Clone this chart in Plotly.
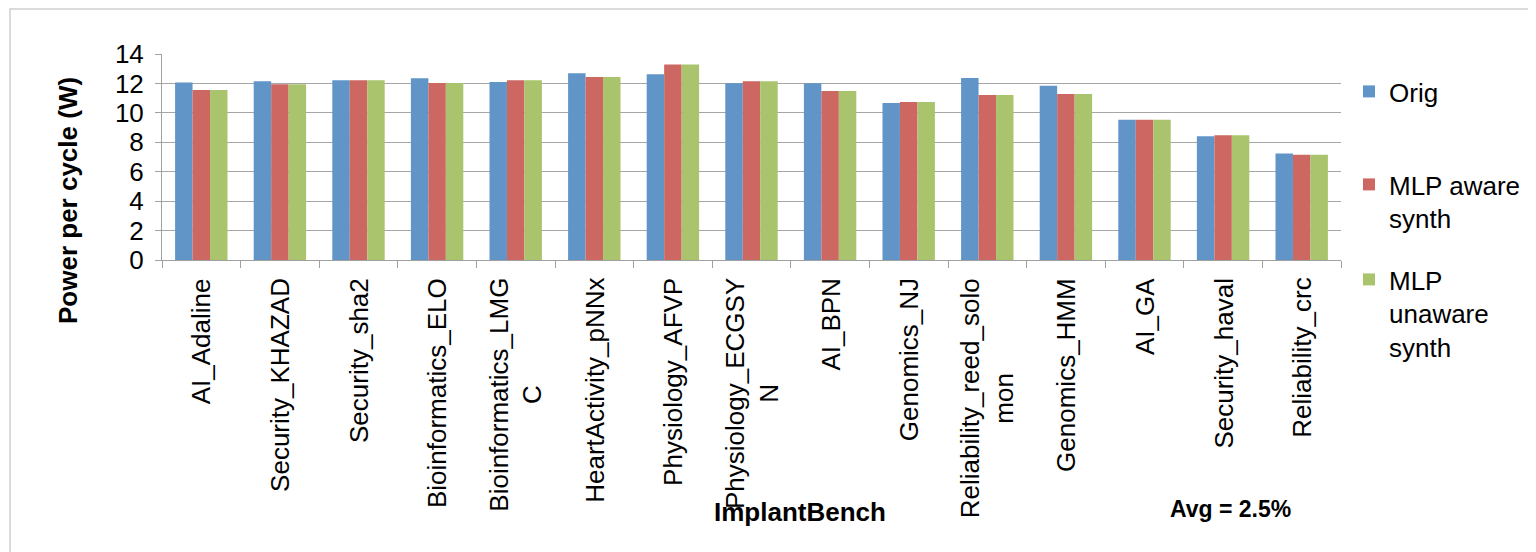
import plotly.graph_objects as go

categories = [
    "AI_Adaline", "Security_KHAZAD", "Security_sha2", "Bioinformatics_ELO",
    "Bioinformatics_LMG<br>C", "HeartActivity_pNNx", "Physiology_AFVP",
    "Physiology_ECGSY<br>N", "AI_BPN", "Genomics_NJ",
    "Reliability_reed_solo<br>mon", "Genomics_HMM", "AI_GA",
    "Security_haval", "Reliability_crc",
]
orig = [12.07, 12.14, 12.21, 12.35, 12.10, 12.69, 12.62, 12.01, 12.01, 10.67,
        12.37, 11.85, 9.54, 8.41, 7.23]
mlp_aware = [11.55, 11.94, 12.21, 12.03, 12.21, 12.44, 13.28, 12.14, 11.49, 10.74,
             11.21, 11.28, 9.54, 8.47, 7.16]
mlp_unaware = [11.55, 11.94, 12.21, 12.03, 12.21, 12.44, 13.28, 12.14, 11.49, 10.74,
               11.21, 11.28, 9.54, 8.47, 7.16]
series_names = ["Orig", "MLP aware<br>synth", "MLP<br>unaware<br>synth"]
y_ticks = [0, 2, 4, 6, 8, 10, 12, 14]

FONT = "Liberation Sans, Arial, sans-serif"
colors = ["#6195C8", "#CD6762", "#AAC46D"]

# page has an 8px body margin; work in screen pixels and convert
OFF = 8
W, H = 1536 - OFF, 552 - OFF
L, R, T, B = 162 - OFF, 1341 - OFF, 54 - OFF, 260 - OFF
pw, ph = R - L, B - T

def px(x):
    return (x - OFF - L) / pw

def py(y):
    return (B - (y - OFF)) / ph

fig = go.Figure()
for i, (name, vals) in enumerate(zip(series_names, [orig, mlp_aware, mlp_unaware])):
    fig.add_trace(go.Bar(
        x=categories, y=vals, name=name,
        marker=dict(color=colors[i], line=dict(width=0)),
        legend=["legend", "legend2", "legend3"][i],
    ))

leg_common = dict(
    font=dict(family=FONT, size=26, color="#000000"),
    bgcolor="rgba(0,0,0,0)", borderwidth=0,
    xanchor="left", yanchor="top", valign="top",
    itemclick=False, itemdoubleclick=False,
)

# category tick labels (centred multi-line, rotated) placed on the category axis
label_annotations = [
    dict(text=c, xref="x", yref="paper", x=c, y=py(276),
         textangle=-90, showarrow=False, xanchor="center", yanchor="top",
         align="center", font=dict(family=FONT, size=26, color="#000000"))
    for c in categories
]

fig.update_layout(
    width=W, height=H, autosize=False,
    margin=dict(l=L, r=W - R, t=T, b=H - B, autoexpand=False),
    paper_bgcolor="white", plot_bgcolor="white",
    barmode="group", bargap=0.333, bargroupgap=0,
    font=dict(family=FONT, size=26, color="#000000"),
    showlegend=True,
    legend=dict(x=px(1349), y=py(68), **leg_common),
    legend2=dict(x=px(1349), y=py(161), **leg_common),
    legend3=dict(x=px(1349), y=py(256), **leg_common),
    xaxis=dict(
        type="category", tickson="boundaries",
        ticks="outside", ticklen=7, tickcolor="#A0A0A0",
        showline=True, linecolor="#A0A0A0", linewidth=1,
        showgrid=False, showticklabels=False,
    ),
    yaxis=dict(
        range=[0, 14], tickvals=y_ticks, ticktext=[str(v) for v in y_ticks],
        ticks="outside", ticklen=6, tickcolor="#A0A0A0",
        showline=True, linecolor="#A0A0A0", linewidth=1,
        showgrid=True, gridcolor="#A6A6A6", gridwidth=1,
        zeroline=False, ticklabelstandoff=6,
        tickfont=dict(family=FONT, size=26, color="#000000"),
    ),
    shapes=[dict(
        type="rect", xref="paper", yref="paper",
        x0=px(10), x1=px(1545), y0=py(570), y1=py(9),
        line=dict(color="#D0D0D0", width=1.5), fillcolor="rgba(0,0,0,0)",
        layer="below",
    )],
    annotations=label_annotations + [
        dict(text="<b>Power per cycle (W)</b>", xref="paper", yref="paper",
             x=px(68), y=py(201), textangle=-90, showarrow=False,
             xanchor="center", yanchor="middle",
             font=dict(family=FONT, size=26, color="#000000")),
        dict(text="<b>ImplantBench</b>", xref="paper", yref="paper",
             x=px(800), y=py(512), showarrow=False,
             xanchor="center", yanchor="middle",
             font=dict(family=FONT, size=26, color="#000000")),
        dict(text="<b>Avg = 2.5%</b>", xref="paper", yref="paper",
             x=px(1230), y=py(509), showarrow=False,
             xanchor="center", yanchor="middle",
             font=dict(family=FONT, size=23, color="#000000")),
    ],
)

fig.write_html("out.html")
